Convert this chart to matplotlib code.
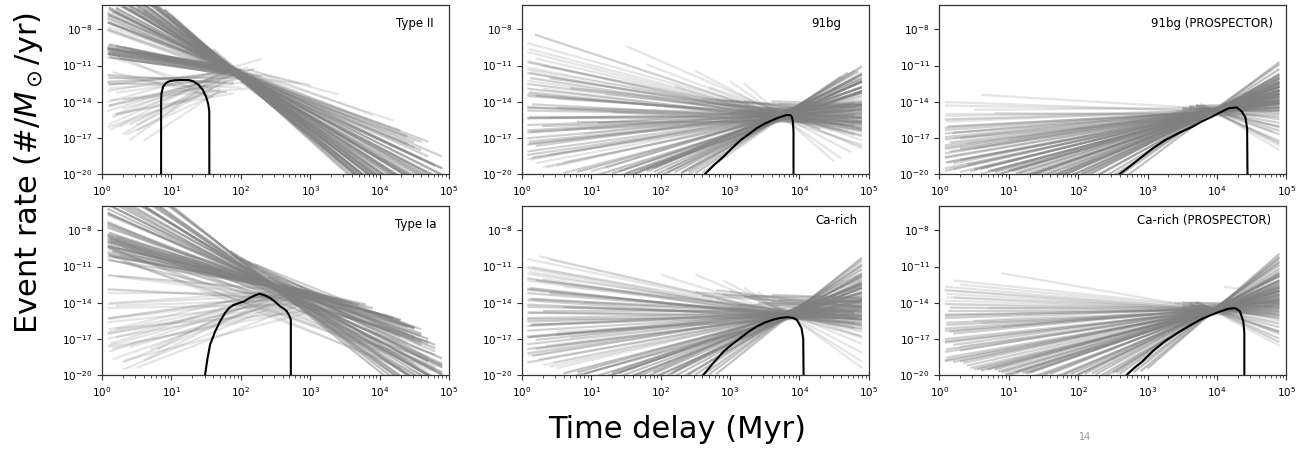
import numpy as np
import matplotlib
matplotlib.use("Agg")
import matplotlib.pyplot as plt
from matplotlib.ticker import LogLocator, NullLocator, LogFormatterMathtext

# ---------------- data (log10 units: log10(t/Myr), log10(rate)) ----------------
panel_titles = ["Type II", "91bg", "91bg (PROSPECTOR)", "Type Ia", "Ca-rich", "Ca-rich (PROSPECTOR)"]

# point each fan of power-law samples passes near: (log t, log rate)
pivot_logt = [1.9, 3.75, 3.95, 2.45, 3.85, 3.95]
pivot_lograte = [-11.5, -15.2, -14.8, -12.6, -15.0, -14.6]

# ---- Type II power-law samples: slope, offset at pivot, log t start, log t end, overlapping samples ----
typeII_slope = [-5.1,-4.9,-4.8,-4.7,-4.6,-4.5,-4.45,-4.4,-4.3,-4.2,-4.15,-4.1,-4.0,-3.95,-3.9,-3.8,-3.7,-3.6,-3.5,-3.4,-3.3,-3.2,-3.1,-3.0,-2.9,-2.8,-2.7,-2.6,-2.5,-2.4,-2.2,-2.0,-1.9,-2.3,-2.1,-1.6,-1.3,
                -0.8,-0.9,-1.0,-1.0,-1.1,-1.2,-0.95,-1.05,-0.85,-1.15,-0.7,-1.3,-0.9,-1.0,
                0.0,0.3,0.6,1.0,1.4,1.8,2.2,2.6,3.0,3.5,4.2,2.0,1.2,-0.4,-1.8,-2.6,0.8,2.8,1.6,-0.6,3.8,
                -5.0,-4.85,-4.75,-4.65,-4.55,-4.35,-4.25,-4.05,-3.85,-3.75,-3.65,-3.55,-3.45,-3.35,-3.25,-3.15,-3.05,-2.95,-2.85,-2.75,-2.65,-2.55,-2.45,-2.35,-2.25,-2.15,-2.05,-5.2,-4.9,-4.4,
                -0.75,-0.85,-0.95,-1.05,-1.15,-1.25,-0.9,-1.0,-1.1,-0.8,
                0.15,0.45,0.8,1.2,1.6,2.0,2.4,2.8,3.2,-0.2,-0.8,-1.4,1.0,2.6,0.5]
typeII_offset = [0.0,0.1,-0.1,0.2,0.0,-0.2,0.1,0.3,-0.1,0.0,0.2,-0.3,0.1,0.0,-0.2,0.2,0.0,-0.1,0.1,0.0,-0.2,0.2,0.0,-0.1,0.1,0.3,0.0,-0.2,0.2,0.0,0.1,-0.1,0.3,0.4,0.6,0.5,0.3,
                 0.2,0.0,0.1,-0.2,0.0,0.1,0.3,-0.1,-0.3,0.2,-0.1,-0.2,0.4,0.0,
                 -0.5,-0.3,0.0,0.2,-0.3,0.0,0.2,0.3,0.5,0.4,0.6,-1.0,-1.5,-1.0,-2.0,-3.0,-1.0,-0.5,0.4,-0.4,-0.8,
                 0.15,-0.15,0.05,-0.25,0.25,-0.05,0.15,-0.15,0.05,0.25,-0.25,0.15,-0.05,0.05,0.2,-0.2,0.1,-0.1,0.0,0.2,-0.1,0.1,0.3,-0.2,0.0,0.2,-0.3,0.0,0.4,-0.4,
                 0.1,-0.1,0.2,0.0,-0.2,0.0,0.35,-0.35,0.15,-0.25,
                 -0.8,-0.6,-0.4,-0.7,-0.5,-0.3,-0.6,-0.2,-0.4,-1.3,-1.8,-2.5,-1.8,-1.2,-1.5]
typeII_start = [0.9,0.8,0.8,0.7,0.7,0.7,1.2,0.6,0.6,1.5,0.6,0.6,0.5,1.8,0.5,0.4,0.4,1.3,0.3,0.3,2.0,0.2,0.2,0.1,0.1,2.1,0.08,0.08,0.1,0.08,0.08,0.08,0.1,2.0,2.2,2.1,2.3,
                0.1,0.08,0.08,0.15,0.08,0.1,0.2,0.08,0.12,0.3,0.08,0.08,0.5,0.7,
                0.08,0.08,0.1,0.08,0.1,0.08,0.15,0.1,0.12,0.3,0.4,0.08,0.2,0.08,0.1,0.12,0.3,0.5,0.08,1.5,0.6,
                0.9,1.0,0.7,1.4,0.7,0.6,1.1,0.6,0.5,1.6,0.4,0.4,1.7,0.3,0.3,1.9,0.2,0.2,0.15,0.1,0.08,1.2,0.08,0.08,0.08,0.1,0.08,1.0,1.6,2.0,
                0.08,0.1,0.08,0.12,0.08,0.2,0.4,0.08,0.6,0.25,
                0.08,0.1,0.2,0.08,0.3,0.15,0.25,0.4,0.5,0.08,0.1,0.15,0.2,0.35,0.12]
typeII_end = [4.9,4.9,4.9,4.9,4.9,4.9,4.9,4.9,4.9,4.9,4.9,4.9,4.9,4.9,4.9,4.9,4.9,4.9,4.9,4.9,4.9,4.9,4.8,4.7,4.9,4.6,4.8,4.9,4.5,4.4,4.6,4.3,4.2,4.4,3.9,3.4,3.0,
              2.0,1.9,2.0,1.8,2.1,1.9,1.9,2.0,1.8,2.0,2.3,1.9,1.9,2.0,
              2.0,2.1,2.2,2.0,1.9,2.1,1.9,1.8,1.7,1.6,1.5,1.7,1.8,1.9,1.6,1.5,2.2,1.8,2.3,2.85,1.7,
              4.9,4.9,4.9,4.9,4.9,4.9,4.9,4.9,4.9,4.9,4.9,4.9,4.9,4.9,4.9,4.9,4.9,4.9,4.9,4.9,4.8,4.7,4.9,4.6,4.5,4.7,4.4,4.9,4.9,4.9,
              1.9,2.0,1.8,2.0,1.9,2.1,1.9,2.0,1.8,2.2,
              1.9,2.0,1.8,2.1,1.7,1.9,1.8,1.7,1.6,2.0,1.8,1.6,1.9,1.7,2.1]
typeII_count = [3,3,3,3,3,3,3,3,3,3,3,3,3,3,3,3,3,3,3,3,3,2,2,2,2,2,2,2,2,2,2,2,1,1,1,1,1,
                3,3,3,3,3,3,2,3,2,2,2,2,2,2,
                2,2,2,1,2,1,1,1,1,1,1,1,1,2,1,1,1,1,1,1,1,
                3,3,3,3,3,3,3,3,3,3,3,3,3,3,3,3,3,3,3,3,2,2,2,2,2,2,2,2,2,2,
                3,3,3,3,3,3,3,3,3,3,
                1,1,1,1,1,1,1,1,1,1,1,1,1,1,1]

# ---- 91bg ----
bg91_slope = [-1.9,-1.6,-1.45,-1.3,-1.2,-1.1,-1.0,-0.9,-0.8,-0.7,-0.6,-0.5,-0.4,-0.3,-0.2,-0.1,0.0,0.1,0.2,0.3,0.4,0.5,0.6,0.7,0.8,0.9,1.0,1.1,1.2,1.3,-0.35,-0.05,0.45,-0.75,0.25,-0.55,0.65,
              1.5,1.7,1.9,2.1,2.3,2.5,2.7,3.0,3.3,3.6,4.0,2.0,2.4,1.8,2.8,
              -2.5,-2.2,-3.0,-4.0,-5.0,-2.0,-1.8,
              -0.5,-0.3,-0.8,0.2,-0.2,0.5,-1.0,
              -1.5,-1.35,-1.25,-1.15,-1.05,-0.95,-0.85,-0.65,-0.45,-0.25,-0.15,0.05,0.15,0.35,0.55,0.75,0.85,0.95,1.05,1.15,1.25,-0.6,0.0,0.4,-0.3,
              1.6,1.8,2.0,2.2,2.4,2.6,2.9,3.2,3.5,3.8,2.1,2.5,
              -0.4,-0.6,0.0,0.3,-0.9,-0.1,0.6,-1.2]
bg91_offset = [0.0,0.2,0.0,-0.2,0.1,0.0,0.2,-0.1,0.0,0.1,-0.2,0.0,0.2,-0.1,0.0,0.1,-0.1,0.2,0.0,-0.2,0.1,0.0,-0.1,0.2,0.0,-0.2,0.1,0.0,-0.1,0.1,0.3,-0.3,0.3,-0.3,-0.4,0.4,0.4,
               0.0,0.1,-0.1,0.0,0.2,0.0,-0.2,0.0,0.1,0.0,-0.1,-0.3,0.3,0.3,0.2,
               0.2,0.0,0.0,-0.1,0.0,0.3,-0.3,
               0.9,1.0,0.8,0.7,1.2,0.6,0.5,
               0.1,0.0,-0.1,0.2,-0.2,0.1,0.3,-0.1,0.1,-0.2,0.2,0.0,-0.3,0.1,-0.1,0.2,-0.1,0.0,0.2,-0.2,0.0,0.5,-0.5,0.5,-0.4,
               0.1,-0.1,0.1,-0.1,0.1,-0.1,0.1,-0.1,0.1,0.0,-0.3,0.3,
               0.6,0.8,0.5,0.4,0.6,1.0,0.3,0.3]
bg91_start = [0.19,0.08,0.08,0.08,0.1,0.08,0.08,0.12,0.08,0.08,0.1,0.08,0.08,0.15,0.08,0.08,0.1,0.08,0.08,0.12,0.08,0.08,0.1,0.08,0.08,0.15,0.08,0.2,0.3,0.5,0.5,0.4,0.6,0.3,1.0,1.2,0.9,
              0.6,1.0,1.3,1.5,1.7,1.9,2.0,2.2,2.3,2.4,2.6,1.4,1.8,1.2,2.1,
              1.5,1.8,2.5,3.0,3.2,2.7,2.2,
              2.6,2.9,3.2,3.4,3.6,3.0,3.5,
              0.1,0.2,0.08,0.3,0.12,0.08,0.4,0.08,0.2,0.08,0.5,0.08,0.3,0.08,0.1,0.2,0.08,0.4,0.12,0.6,0.35,0.7,0.8,1.1,1.3,
              0.8,1.1,1.4,1.6,1.8,1.95,2.1,2.3,2.4,2.5,1.5,1.9,
              2.4,2.8,3.1,3.3,3.5,3.7,3.2,3.0]
bg91_end = [4.3,4.9,4.9,4.8,4.9,4.9,4.7,4.9,4.9,4.8,4.9,4.9,4.7,4.9,4.9,4.8,4.9,4.9,4.9,4.8,4.9,4.9,4.9,4.7,4.9,4.9,4.9,4.8,4.9,4.9,4.9,4.9,4.9,4.9,4.9,4.6,4.8,
            4.9,4.9,4.9,4.9,4.9,4.9,4.9,4.9,4.85,4.8,4.6,4.9,4.9,4.9,4.8,
            4.9,4.9,4.75,4.6,4.5,4.9,4.9,
            4.9,4.9,4.9,4.9,4.9,4.9,4.9,
            4.6,4.9,4.8,4.9,4.7,4.9,4.9,4.8,4.9,4.9,4.7,4.9,4.9,4.9,4.8,4.9,4.9,4.7,4.9,4.9,4.8,4.9,4.9,4.9,4.9,
            4.9,4.9,4.9,4.9,4.9,4.9,4.9,4.9,4.9,4.7,4.9,4.9,
            4.9,4.9,4.9,4.9,4.9,4.9,4.9,4.9]
bg91_count = [2,1,1,1,1,1,1,2,1,2,2,2,2,2,2,2,2,2,2,2,2,2,2,2,2,2,1,1,1,1,1,1,1,1,1,1,1,
              2,2,3,3,3,3,3,3,3,2,2,3,3,2,2,
              1,1,1,1,1,1,1,
              2,2,2,2,2,2,2,
              1,1,1,1,1,2,2,2,2,2,2,2,2,2,2,2,2,1,1,1,1,2,2,2,2,
              3,3,3,3,3,3,3,3,3,3,3,3,
              2,2,2,2,2,2,2,2]

# ---- 91bg (PROSPECTOR) ----
bg91p_slope = [-0.35,-0.2,-0.1,0.0,0.1,0.2,0.3,0.4,0.5,0.55,0.6,0.65,0.7,0.75,0.8,0.85,0.9,0.95,1.0,1.05,1.1,1.15,1.2,1.25,1.3,
               1.4,1.5,1.6,1.7,1.8,1.9,2.0,2.1,2.2,2.3,2.4,2.5,2.6,2.7,2.8,3.0,3.2,3.4,3.7,4.0,4.3,
               -1.0,-1.5,-2.0,-2.5,-3.0,-3.5,-0.5,-2.2,
               0.2,-0.3,0.4,
               0.15,0.25,0.35,0.45,0.58,0.68,0.78,0.88,0.98,1.08,1.18,1.28,1.35,1.45,1.55,1.65,0.05,-0.05,0.5,0.9,
               1.45,1.55,1.65,1.75,1.85,1.95,2.05,2.15,2.25,2.35,2.45,2.55,2.75,2.9,3.1,
               -0.8,-1.2,-1.8,-2.8,0.6,-0.2]
bg91p_offset = [0.2,0.0,0.1,-0.2,0.0,0.1,-0.1,0.0,0.1,-0.2,0.0,0.2,-0.1,0.0,0.1,-0.1,0.0,0.2,0.0,-0.2,0.0,0.1,-0.1,0.0,0.1,
                0.0,-0.1,0.0,0.1,0.0,-0.1,0.0,0.1,0.0,-0.1,0.0,0.1,0.0,-0.1,0.0,0.1,0.0,-0.1,0.0,0.1,0.0,
                0.0,0.1,0.0,-0.1,0.0,0.1,0.0,0.2,
                0.5,0.4,0.3,
                -0.1,0.1,0.0,-0.1,0.1,0.0,-0.1,0.1,0.0,-0.1,0.1,0.0,-0.1,0.1,0.0,-0.1,0.3,-0.3,-0.4,0.3,
                0.1,0.0,-0.1,0.1,0.0,-0.1,0.1,0.0,-0.1,0.1,0.0,-0.1,0.1,0.0,-0.1,
                0.1,-0.1,0.1,0.0,0.3,0.2]
bg91p_start = [0.6,0.08,0.08,0.1,0.08,0.08,0.12,0.08,0.08,0.3,0.08,0.2,0.08,0.4,0.08,0.15,0.08,0.5,0.08,0.3,0.1,0.6,0.08,0.4,0.2,
               0.5,0.7,0.8,1.0,1.1,1.2,1.3,1.4,1.5,1.6,1.7,1.8,1.9,2.0,2.1,2.2,2.3,2.4,2.5,2.6,2.7,
               3.6,3.7,3.7,3.8,3.8,3.85,3.5,3.75,
               3.6,3.7,3.5,
               0.08,0.1,0.08,0.2,0.08,0.15,0.08,0.3,0.08,0.1,0.2,0.08,0.3,0.45,0.6,0.75,0.5,0.8,0.3,1.0,
               0.6,0.75,0.9,1.05,1.15,1.25,1.35,1.45,1.55,1.65,1.75,1.85,2.05,2.15,2.25,
               3.6,3.7,3.75,3.8,3.4,3.5]
bg91p_end = [4.9,4.9,4.8,4.9,4.9,4.9,4.9,4.9,4.9,4.9,4.9,4.9,4.9,4.9,4.9,4.9,4.9,4.9,4.9,4.9,4.9,4.9,4.9,4.9,4.9,
             4.9,4.9,4.9,4.9,4.9,4.9,4.9,4.9,4.9,4.9,4.9,4.9,4.9,4.9,4.9,4.9,4.9,4.9,4.9,4.9,4.9,
             4.9,4.9,4.9,4.9,4.9,4.9,4.9,4.8,
             4.9,4.9,4.9,
             4.9,4.9,4.9,4.9,4.9,4.9,4.9,4.9,4.9,4.9,4.9,4.9,4.9,4.9,4.9,4.9,4.9,4.9,4.9,4.9,
             4.9,4.9,4.9,4.9,4.9,4.9,4.9,4.9,4.9,4.9,4.9,4.9,4.9,4.9,4.9,
             4.9,4.9,4.9,4.9,4.9,4.9]
bg91p_count = [1,1,1,1,1,1,2,2,2,1,2,1,2,1,2,2,2,1,2,2,2,1,2,2,2,
               3,3,3,3,3,3,3,3,3,3,3,3,3,3,3,3,3,3,3,3,3,
               2,2,2,2,1,1,2,1,
               2,2,2,
               1,1,2,2,2,2,2,2,2,2,2,2,2,2,2,2,1,1,1,1,
               3,3,3,3,3,3,3,3,3,3,3,3,3,3,3,
               2,2,2,2,2,2]

# ---- Type Ia ----
typeIa_slope = [-4.6,-4.3,-4.0,-3.8,-3.6,-3.4,-3.2,-3.0,-2.8,-2.6,-2.4,-4.2,-3.5,-3.0,-2.6,-2.3,-2.2,-2.0,-1.9,-2.5,
                -2.2,-2.0,-1.8,-1.7,-1.6,-1.5,-1.4,-1.3,-1.2,-1.1,-1.0,-0.9,-1.6,-1.9,-2.1,-2.2,-2.3,-2.2,-2.4,-2.0,-2.6,-1.8,-1.5,-2.7,
                -0.5,0.0,0.4,0.8,1.2,1.6,2.0,2.4,1.0,1.4,0.6,1.8,2.8,0.2,-0.3,1.1,2.2,3.0,1.5,-0.7,
                -4.45,-4.15,-3.9,-3.7,-3.5,-3.3,-3.1,-2.9,-2.7,-2.5,-4.0,-3.6,-3.2,-2.8,-2.4,
                -2.1,-1.9,-1.75,-1.65,-1.55,-1.45,-1.35,-1.25,-1.15,-1.05,-2.0,-1.8,-1.6,-1.4,-2.3,-2.1,-1.9,-2.5,-1.7,-2.2,
                0.3,0.7,1.1,1.5,1.9,2.3,0.9,1.3,0.5,1.7,2.6,0.1]
typeIa_offset = [0.0,0.2,-0.1,0.1,0.0,0.2,-0.2,0.0,0.1,-0.1,0.2,0.3,0.6,0.8,1.0,1.2,0.9,0.7,0.5,0.4,
                 0.0,0.1,-0.1,0.0,0.1,0.0,-0.2,0.2,0.0,-0.1,0.1,0.0,-0.3,-0.5,-0.8,-1.2,-1.6,-2.0,-2.4,-2.2,-1.0,0.4,0.3,0.5,
                 -0.3,-0.6,-0.5,-0.8,-1.0,-1.2,-1.5,-1.8,-2.0,-0.4,-1.6,-0.6,-1.0,-1.2,-1.0,-2.5,-2.5,-0.3,-3.0,-0.8,
                 0.1,-0.1,0.2,-0.2,0.1,0.0,0.2,-0.1,0.0,0.1,0.5,0.7,0.9,1.1,0.6,
                 0.05,-0.05,0.15,-0.15,0.05,-0.1,0.1,0.0,-0.05,0.05,-0.4,-0.6,-0.9,-1.1,-1.4,-1.8,-2.1,-0.6,0.2,-2.6,
                 -0.8,-1.1,-1.4,-0.9,-1.0,-1.4,-1.8,-2.2,-2.4,-1.6,-0.7,-1.6]
typeIa_start = [0.9,0.8,0.7,0.6,0.5,0.4,0.3,0.2,0.1,0.08,0.08,1.85,1.85,1.9,2.0,2.1,2.3,2.4,2.5,2.6,
                0.08,0.08,0.08,0.1,0.08,0.08,0.1,0.08,0.08,0.15,0.08,0.1,0.3,0.2,0.08,0.08,0.1,0.08,0.12,0.3,0.08,1.2,1.5,1.7,
                0.08,0.08,0.1,0.08,0.1,0.08,0.15,0.3,0.08,0.2,0.08,0.12,0.6,0.2,0.08,0.1,0.5,0.8,0.3,0.2,
                0.85,0.75,0.65,0.55,0.45,0.35,0.25,0.15,0.08,0.08,1.85,1.9,2.0,2.2,2.4,
                0.08,0.1,0.08,0.12,0.08,0.1,0.08,0.15,0.08,0.1,0.2,0.08,0.25,0.08,0.12,0.08,0.3,0.08,1.0,0.1,
                0.08,0.1,0.08,0.2,0.1,0.3,0.08,0.15,0.1,0.4,0.7,0.08]
typeIa_end = [4.9,4.9,4.9,4.9,4.9,4.9,4.9,4.9,4.9,4.9,4.8,4.9,4.9,4.7,4.6,4.5,4.5,4.6,4.4,4.3,
              4.8,4.7,4.6,4.5,4.3,4.2,4.0,3.8,3.5,3.2,3.0,2.8,4.4,4.7,4.8,4.9,4.8,4.75,4.6,4.9,4.5,3.9,3.6,4.4,
              2.6,2.7,2.6,2.8,2.6,2.7,2.5,2.4,2.9,2.6,2.8,2.5,2.4,2.9,2.7,3.0,2.9,2.3,3.1,3.0,
              4.9,4.9,4.9,4.9,4.9,4.9,4.9,4.9,4.9,4.9,4.9,4.8,4.7,4.6,4.5,
              4.8,4.6,4.5,4.4,4.3,4.1,3.9,3.7,3.4,3.1,4.6,4.7,4.5,4.4,4.8,4.8,4.9,4.7,4.2,4.9,
              2.7,2.6,2.8,2.5,2.6,2.4,2.9,2.8,3.0,2.6,2.4,2.8]
typeIa_count = [3,3,3,3,3,3,3,3,3,3,2,2,2,2,2,2,2,2,2,2,
                3,3,3,3,3,3,3,3,2,2,2,2,2,2,2,2,1,1,1,1,1,2,2,2,
                2,1,1,2,1,1,1,1,1,1,1,1,1,1,2,1,1,1,1,1,
                3,3,3,3,3,3,3,3,3,3,2,2,2,2,2,
                3,3,3,3,3,3,3,3,3,3,2,2,2,2,1,1,1,2,2,1,
                1,1,1,1,1,1,1,1,1,1,1,1]

# ---- Ca-rich ----
carich_slope = [-1.35,-1.2,-1.05,-0.95,-0.85,-0.75,-0.65,-0.55,-0.45,-0.35,-0.25,-0.15,-0.05,0.05,0.15,0.25,0.35,0.45,0.55,0.65,0.75,0.85,0.95,1.05,1.15,1.25,1.35,-0.6,0.3,-0.2,0.7,
                1.5,1.7,1.9,2.1,2.3,2.5,2.8,3.1,3.5,4.0,4.6,2.0,2.6,
                -1.8,-2.4,-3.0,-3.6,-4.2,-2.0,-1.5,
                -0.5,-0.3,-0.8,0.1,-0.2,0.4,-1.0,
                -1.3,-1.1,-1.0,-0.9,-0.8,-0.7,-0.6,-0.5,-0.4,-0.3,-0.2,-0.1,0.0,0.1,0.2,0.3,0.4,0.5,0.6,0.7,0.8,0.9,1.0,1.2,
                1.6,1.8,2.0,2.2,2.4,2.65,2.95,3.3,3.75,4.3,1.55,2.1,2.5,3.0,
                -0.4,-0.7,0.2,-0.1,0.5,-0.9,0.0]
carich_offset = [0.0,0.1,-0.1,0.0,0.2,0.0,-0.2,0.0,0.1,0.0,-0.1,0.1,0.0,-0.2,0.0,0.1,0.0,-0.1,0.2,0.0,-0.1,0.0,0.1,0.0,-0.1,0.0,0.1,0.4,-0.4,0.4,0.3,
                 0.0,0.1,-0.1,0.0,0.1,0.0,-0.1,0.0,0.1,0.0,-0.1,0.3,0.3,
                 0.0,0.1,0.0,-0.1,0.0,0.3,-0.2,
                 1.2,1.4,1.0,1.0,1.6,0.8,0.7,
                 0.1,-0.1,0.2,-0.2,0.0,0.3,-0.1,0.1,-0.3,0.2,0.0,-0.2,0.3,0.1,-0.1,0.2,-0.3,0.0,0.1,-0.2,0.2,0.0,-0.1,0.1,
                 0.1,-0.1,0.1,-0.1,0.1,-0.1,0.1,-0.1,0.1,0.0,-0.3,0.3,-0.3,0.3,
                 1.1,1.3,0.9,1.5,0.6,0.9,1.2]
carich_start = [0.25,0.08,0.08,0.1,0.08,0.08,0.12,0.08,0.08,0.15,0.08,0.08,0.1,0.08,0.08,0.12,0.08,0.08,0.1,0.08,0.2,0.08,0.15,0.08,0.3,0.4,0.5,0.6,0.5,0.9,0.7,
                0.6,0.9,1.2,1.4,1.6,1.8,2.1,2.2,2.4,2.6,2.8,1.3,1.9,
                2.0,2.5,2.9,3.2,3.4,3.0,2.8,
                2.5,2.9,3.2,3.4,3.6,3.0,3.5,
                0.4,0.15,0.08,0.3,0.08,0.2,0.08,0.4,0.08,0.1,0.6,0.08,0.3,0.08,0.15,0.08,0.5,0.08,0.2,0.08,0.35,0.1,0.25,0.45,
                0.8,1.1,1.3,1.5,1.7,2.0,2.15,2.3,2.5,2.7,0.7,1.4,1.8,2.2,
                2.6,2.8,3.1,3.3,3.5,3.6,3.7]
carich_end = [4.9,4.9,4.8,4.9,4.9,4.7,4.9,4.9,4.9,4.8,4.9,4.9,4.9,4.9,4.8,4.9,4.9,4.9,4.9,4.9,4.9,4.9,4.9,4.9,4.9,4.9,4.9,4.9,4.9,4.8,4.9,
              4.9,4.9,4.9,4.9,4.9,4.9,4.9,4.9,4.9,4.9,4.9,4.9,4.9,
              4.9,4.9,4.9,4.9,4.9,4.9,4.9,
              4.9,4.9,4.9,4.9,4.9,4.9,4.9,
              4.9,4.8,4.9,4.9,4.9,4.9,4.8,4.9,4.9,4.9,4.9,4.9,4.9,4.9,4.8,4.9,4.9,4.9,4.9,4.9,4.9,4.9,4.9,4.9,
              4.9,4.9,4.9,4.9,4.9,4.9,4.9,4.9,4.9,4.9,4.9,4.9,4.9,4.9,
              4.9,4.9,4.9,4.9,4.9,4.9,4.9]
carich_count = [1,1,1,1,1,1,2,2,2,2,2,2,2,2,2,2,2,2,2,2,2,2,2,2,1,1,1,1,1,1,1,
                3,3,3,3,3,3,3,3,3,3,3,3,3,
                1,1,1,1,1,1,1,
                2,2,2,2,2,2,2,
                1,1,1,1,2,2,2,2,2,2,2,2,2,2,2,2,2,2,2,2,1,1,1,1,
                3,3,3,3,3,3,3,3,3,3,3,3,3,3,
                2,2,2,2,2,2,2]

# ---- Ca-rich (PROSPECTOR) ----
carichp_slope = [-1.0,-0.6,-0.5,-0.4,-0.3,-0.2,-0.1,0.0,0.1,0.2,0.3,0.4,0.5,0.6,0.7,0.8,0.9,1.0,1.1,1.2,1.3,1.4,0.35,0.75,0.05,
                 1.5,1.6,1.7,1.8,1.9,2.0,2.2,2.4,2.6,2.8,3.0,3.3,3.6,4.0,4.5,5.0,
                 -1.0,-1.5,-2.0,-2.5,-3.0,-0.5,
                 0.0,-0.3,0.3,-0.6,
                 -0.55,-0.45,-0.35,-0.25,-0.15,-0.05,0.15,0.25,0.45,0.55,0.65,0.85,0.95,1.05,1.15,1.25,1.35,1.45,0.2,0.6,
                 1.55,1.65,1.75,1.85,1.95,2.1,2.3,2.5,2.7,2.9,3.15,3.45,3.8,4.25,4.75,
                 -0.8,-1.2,-1.8,-2.2,-2.8,0.5]
carichp_offset = [0.0,0.2,0.0,0.1,-0.1,0.0,0.1,-0.1,0.0,0.1,-0.1,0.0,0.1,-0.1,0.0,0.1,0.0,-0.1,0.0,0.1,0.0,-0.1,0.3,-0.3,0.3,
                  0.0,0.1,0.0,-0.1,0.0,0.1,0.0,-0.1,0.0,0.1,0.0,-0.1,0.0,0.1,0.0,-0.1,
                  0.2,0.0,0.1,0.0,-0.1,0.0,
                  0.6,0.5,0.4,2.0,
                  0.1,-0.1,0.0,0.1,-0.1,0.0,0.1,-0.1,0.0,0.1,-0.1,0.0,0.1,-0.1,0.0,0.1,-0.1,0.0,-0.4,0.4,
                  0.1,0.0,-0.1,0.1,0.0,-0.1,0.1,0.0,-0.1,0.1,0.0,-0.1,0.1,0.0,-0.1,
                  0.1,0.0,-0.1,0.1,0.0,0.3]
carichp_start = [0.9,0.2,0.08,0.08,0.1,0.08,0.08,0.12,0.08,0.08,0.1,0.08,0.15,0.08,0.08,0.2,0.08,0.1,0.08,0.3,0.4,0.5,0.5,0.3,0.7,
                 0.6,0.8,0.9,1.0,1.2,1.3,1.5,1.7,1.9,2.0,2.2,2.3,2.5,2.6,2.8,3.0,
                 3.5,3.6,3.7,3.7,3.8,3.5,
                 3.4,3.6,3.5,4.1,
                 0.3,0.08,0.1,0.2,0.08,0.15,0.08,0.1,0.08,0.2,0.08,0.1,0.3,0.08,0.2,0.35,0.45,0.55,0.6,0.9,
                 0.7,0.85,0.95,1.1,1.25,1.4,1.6,1.8,1.95,2.1,2.25,2.4,2.55,2.7,2.9,
                 3.5,3.6,3.65,3.7,3.8,3.4]
carichp_end = [4.9,4.9,4.9,4.8,4.9,4.9,4.9,4.9,4.9,4.8,4.9,4.9,4.9,4.9,4.9,4.9,4.9,4.9,4.9,4.9,4.9,4.9,4.9,4.9,4.9,
               4.9,4.9,4.9,4.9,4.9,4.9,4.9,4.9,4.9,4.9,4.9,4.9,4.9,4.9,4.9,4.9,
               4.9,4.9,4.9,4.9,4.9,4.9,
               4.9,4.9,4.9,4.4,
               4.9,4.9,4.9,4.9,4.9,4.9,4.9,4.9,4.9,4.9,4.9,4.9,4.9,4.9,4.9,4.9,4.9,4.9,4.9,4.9,
               4.9,4.9,4.9,4.9,4.9,4.9,4.9,4.9,4.9,4.9,4.9,4.9,4.9,4.9,4.9,
               4.9,4.9,4.9,4.9,4.9,4.9]
carichp_count = [1,1,1,1,1,1,1,2,2,2,2,2,2,2,2,2,2,2,2,2,2,2,1,1,1,
                 3,3,3,3,3,3,3,3,3,3,3,3,3,3,3,3,
                 2,2,2,2,1,1,
                 2,2,2,1,
                 1,1,1,1,1,2,2,2,2,2,2,2,2,2,2,2,2,2,1,1,
                 3,3,3,3,3,3,3,3,3,3,3,3,3,3,3,
                 2,2,2,2,2,2]

# ---- black median curves ----
typeII_curve_logt = [0.851,0.851,0.856,0.88,0.92,0.97,1.05,1.15,1.25,1.32,1.39,1.45,1.5,1.53,1.545,1.546]
typeII_curve_lograte = [-20,-14.0,-13.3,-12.75,-12.45,-12.3,-12.22,-12.2,-12.2,-12.32,-12.6,-13.0,-13.6,-14.2,-14.8,-20]

bg91_curve_logt = [2.64,2.77,2.905,3.03,3.15,3.27,3.385,3.5,3.625,3.72,3.82,3.87,3.89,3.905,3.915,3.915]
bg91_curve_lograte = [-20,-19.25,-18.57,-17.85,-17.2,-16.7,-16.2,-15.82,-15.5,-15.28,-15.1,-15.12,-15.25,-15.6,-16.5,-20]

bg91p_curve_logt = [2.60,2.76,2.92,3.08,3.25,3.45,3.64,3.78,3.925,4.05,4.165,4.285,4.36,4.41,4.435,4.44]
bg91p_curve_lograte = [-20,-19.3,-18.57,-17.85,-17.2,-16.6,-16.1,-15.65,-15.25,-14.88,-14.55,-14.47,-14.83,-15.3,-16.2,-20]

typeIa_curve_logt = [1.484,1.52,1.556,1.628,1.70,1.77,1.83,1.89,1.96,2.04,2.13,2.2,2.27,2.35,2.42,2.5,2.565,2.62,2.66,2.7,2.72,2.72]
typeIa_curve_lograte = [-20,-18.6,-17.5,-16.4,-15.56,-14.86,-14.45,-14.2,-14.05,-13.9,-13.6,-13.4,-13.25,-13.4,-13.6,-13.95,-14.3,-14.5,-14.7,-15.1,-15.4,-20]

carich_curve_logt = [2.615,2.76,2.905,3.03,3.145,3.27,3.385,3.5,3.625,3.72,3.82,3.9,3.96,4.03,4.055,4.06]
carich_curve_lograte = [-20,-19.0,-18.06,-17.45,-16.94,-16.4,-15.97,-15.65,-15.4,-15.27,-15.2,-15.25,-15.4,-16.1,-17.0,-20]

carichp_curve_logt = [2.70,2.81,2.92,3.08,3.25,3.45,3.64,3.78,3.925,4.05,4.165,4.26,4.33,4.38,4.395,4.395]
carichp_curve_lograte = [-20,-19.4,-18.9,-18.0,-17.2,-16.45,-15.8,-15.35,-15.0,-14.72,-14.5,-14.45,-14.7,-15.55,-16.5,-20]

# ---------------- figure ----------------
plt.rcParams['font.family'] = ['DejaVu Sans']
fig = plt.figure(figsize=(13.15, 4.51), dpi=100)

lefts = [0.0776, 0.3968, 0.7143]
bottoms = [0.6142, 0.1685]
w, h = 0.2639, 0.374
base_alpha = 0.2

samples = [
    (typeII_slope, typeII_offset, typeII_start, typeII_end, typeII_count),
    (bg91_slope, bg91_offset, bg91_start, bg91_end, bg91_count),
    (bg91p_slope, bg91p_offset, bg91p_start, bg91p_end, bg91p_count),
    (typeIa_slope, typeIa_offset, typeIa_start, typeIa_end, typeIa_count),
    (carich_slope, carich_offset, carich_start, carich_end, carich_count),
    (carichp_slope, carichp_offset, carichp_start, carichp_end, carichp_count),
]
curves = [
    (typeII_curve_logt, typeII_curve_lograte),
    (bg91_curve_logt, bg91_curve_lograte),
    (bg91p_curve_logt, bg91p_curve_lograte),
    (typeIa_curve_logt, typeIa_curve_lograte),
    (carich_curve_logt, carich_curve_lograte),
    (carichp_curve_logt, carichp_curve_lograte),
]
for k, smp in enumerate(samples):
    lens = [len(v) for v in smp]
    assert len(set(lens)) == 1, (k, lens)
for k, cv in enumerate(curves):
    assert len(cv[0]) == len(cv[1]), (k, len(cv[0]), len(cv[1]))

label_x = [0.955, 0.92, 0.963, 0.965, 0.968, 0.955]
label_y = [0.93, 0.93, 0.93, 0.93, 0.955, 0.955]

for i in range(6):
    r, c = divmod(i, 3)
    ax = fig.add_axes([lefts[c], bottoms[r], w, h])
    ax.set_xscale('log')
    ax.set_yscale('log')
    px, py = pivot_logt[i], pivot_lograte[i]
    sl, of, st, en, ct = samples[i]
    for s, o, a, b, n in zip(sl, of, st, en, ct):
        lx = np.array([a, b])
        ly = py + o + s * (lx - px)
        ax.plot(10 ** lx, 10 ** ly, color='#7f7f7f', alpha=1 - (1 - base_alpha) ** n,
                lw=1.6, solid_capstyle='butt')
    cx, cy = curves[i]
    ax.plot(10 ** np.array(cx), 10 ** np.array(cy), color='black', lw=1.5, zorder=5)
    ax.set_xlim(1, 1e5)
    ax.set_ylim(1e-20, 1e-6)
    ax.set_yticks([1e-20, 1e-17, 1e-14, 1e-11, 1e-8])
    ax.yaxis.set_minor_locator(NullLocator())
    ax.xaxis.set_major_locator(LogLocator(base=10, numticks=10))
    ax.xaxis.set_minor_locator(LogLocator(base=10, subs=np.arange(2, 10), numticks=20))
    ax.xaxis.set_major_formatter(LogFormatterMathtext())
    ax.yaxis.set_major_formatter(LogFormatterMathtext())
    ax.tick_params(axis='both', which='major', labelsize=7.5, length=3.5, width=0.8, color='#333333')
    ax.tick_params(axis='both', which='minor', length=2, width=0.6, color='#333333')
    for sp in ax.spines.values():
        sp.set_color('#333333')
        sp.set_linewidth(0.9)
    ax.text(label_x[i], label_y[i], panel_titles[i], transform=ax.transAxes,
            ha='right', va='top', fontsize=8.5)

fig.text(0.0213, 0.616, r'Event rate (#/$M_\odot$/yr)', rotation=90,
         ha='center', va='center', fontsize=22)
fig.text(0.515, 0.047, 'Time delay (Myr)', ha='center', va='center', fontsize=22)
fig.text(0.825, 0.031, '14', ha='center', va='center', fontsize=7, color='#999999')

fig.savefig('out.png', dpi=100)
